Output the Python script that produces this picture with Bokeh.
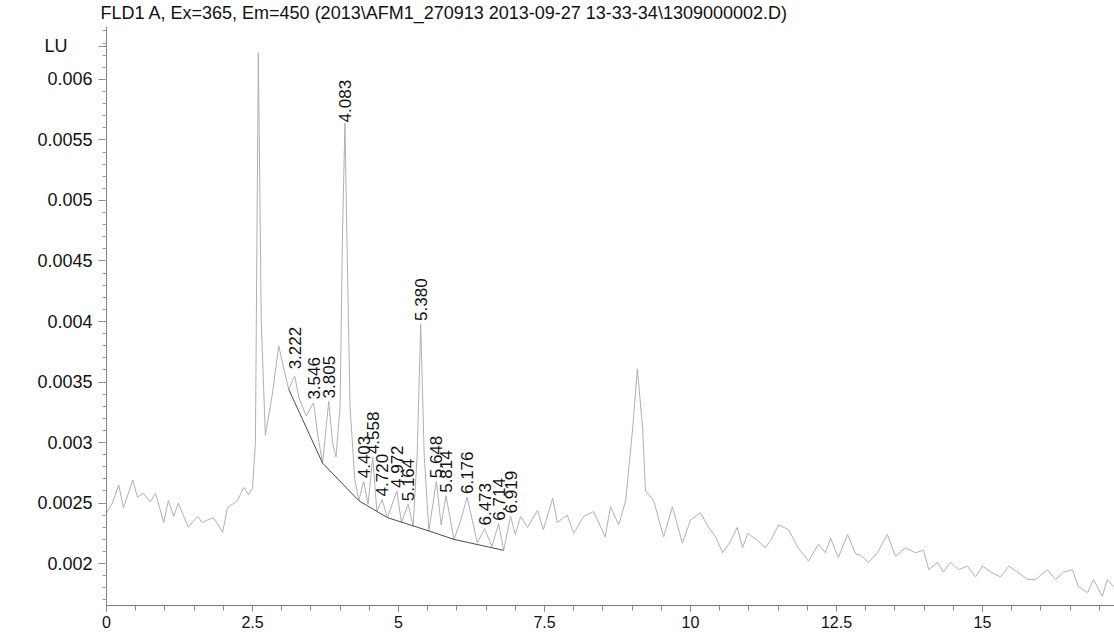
from bokeh.plotting import figure
from bokeh.models import FixedTicker, CustomJSTickFormatter, Title, Range1d, ColumnDataSource
from bokeh.core.properties import value
from bokeh.embed import file_html
from bokeh.resources import INLINE
import math

TITLE = "FLD1 A, Ex=365, Em=450 (2013\\AFM1_270913 2013-09-27 13-33-34\\1309000002.D)"
Y_UNIT = "LU"

# chromatogram trace (retention time in min, signal in LU)
time_min = [
    0.00, 0.10, 0.21, 0.29, 0.45, 0.53, 0.63, 0.75, 0.84, 0.98, 1.06, 1.15, 1.23, 1.40,
    1.56, 1.64, 1.73, 1.83, 1.99, 2.07, 2.24, 2.35, 2.43, 2.50,
    2.55, 2.60, 2.65, 2.72, 2.84, 2.95, 3.03, 3.12, 3.222, 3.30, 3.42, 3.546, 3.62, 3.70,
    3.805, 3.87, 3.93, 4.00, 4.04, 4.083, 4.12, 4.17, 4.25, 4.32, 4.403, 4.48, 4.558, 4.63,
    4.720, 4.81, 4.972, 5.05, 5.164, 5.25, 5.32, 5.380, 5.44, 5.52, 5.648, 5.73, 5.814,
    5.95, 6.06, 6.176, 6.35, 6.473, 6.60, 6.714, 6.80, 6.919, 7.00,
    7.09, 7.21, 7.38, 7.48, 7.64, 7.72, 7.89, 8.00, 8.17, 8.34, 8.54, 8.63, 8.77, 8.89,
    9.01, 9.09, 9.18, 9.23, 9.37, 9.54, 9.69, 9.86, 10.00, 10.17, 10.31, 10.43, 10.55,
    10.68, 10.80, 10.89, 10.98, 11.15, 11.28, 11.37, 11.51, 11.68, 11.83, 12.02, 12.19,
    12.31, 12.40, 12.53, 12.69, 12.83, 12.91, 13.05, 13.20, 13.37, 13.51, 13.68, 13.85,
    13.99, 14.08, 14.23, 14.33, 14.45, 14.59, 14.74, 14.88, 15.00, 15.14, 15.31, 15.45,
    15.60, 15.77, 15.91, 16.11, 16.25, 16.39, 16.54, 16.64, 16.80, 16.90, 17.05, 17.14, 17.24,
]
signal_lu = [
    0.00242, 0.00250, 0.00265, 0.00246, 0.00269, 0.00255, 0.00258, 0.00251, 0.00258, 0.00234,
    0.00252, 0.00239, 0.00250, 0.00230, 0.00239, 0.00234, 0.00236, 0.00238, 0.00226, 0.00246,
    0.00252, 0.00263, 0.00257, 0.00262,
    0.00300, 0.00622, 0.00400, 0.00306, 0.00340, 0.00380, 0.00362, 0.00344, 0.00355, 0.00336,
    0.00322, 0.00333, 0.00305, 0.00283, 0.00334, 0.00300, 0.00288, 0.00330, 0.00470, 0.00564,
    0.00460, 0.00330, 0.00270, 0.00252, 0.00268, 0.00249, 0.00288, 0.00243, 0.00253, 0.00238,
    0.00260, 0.00234, 0.00249, 0.00231, 0.00290, 0.00398, 0.00290, 0.00227, 0.00268, 0.00232,
    0.00256, 0.00220, 0.00235, 0.00255, 0.00217, 0.00229, 0.00214, 0.00233, 0.00211, 0.00239,
    0.00224,
    0.00239, 0.00230, 0.00244, 0.00228, 0.00254, 0.00234, 0.00240, 0.00225, 0.00239, 0.00243,
    0.00222, 0.00247, 0.00232, 0.00252, 0.00312, 0.00361, 0.00312, 0.00260, 0.00252, 0.00222,
    0.00247, 0.00217, 0.00236, 0.00242, 0.00230, 0.00222, 0.00209, 0.00218, 0.00230, 0.00213,
    0.00225, 0.00219, 0.00213, 0.00219, 0.00232, 0.00228, 0.00214, 0.00202, 0.00216, 0.00209,
    0.00221, 0.00205, 0.00224, 0.00208, 0.00207, 0.00201, 0.00209, 0.00224, 0.00206, 0.00213,
    0.00209, 0.00211, 0.00195, 0.00201, 0.00193, 0.00201, 0.00195, 0.00198, 0.00189, 0.00198,
    0.00193, 0.00189, 0.00198, 0.00193, 0.00187, 0.00187, 0.00195, 0.00187, 0.00193, 0.00195,
    0.00181, 0.00176, 0.00187, 0.00173, 0.00187, 0.00181,
]

# integration baseline vertices
base_time = [3.12, 3.70, 4.32, 4.81, 5.52, 5.95, 6.80]
base_lu = [0.00344, 0.00283, 0.00252, 0.00238, 0.00227, 0.00220, 0.00211]

# annotated peaks: retention time label and apex height
peak_rt = [3.222, 3.546, 3.805, 4.083, 4.403, 4.558, 4.720, 4.972, 5.164, 5.380,
           5.648, 5.814, 6.176, 6.473, 6.714, 6.919]
peak_top = [0.00358, 0.00333, 0.00334, 0.00562, 0.00268, 0.00288, 0.00253, 0.00260, 0.00249,
            0.00398, 0.00268, 0.00256, 0.00255, 0.00229, 0.00233, 0.00239]
peak_text = ["3.222", "3.546", "3.805", "4.083", "4.403", "4.558", "4.720", "4.972", "5.164",
             "5.380", "5.648", "5.814", "6.176", "6.473", "6.714", "6.919"]

x_ticks = [0, 2.5, 5, 7.5, 10, 12.5, 15, 17.5]
y_ticks = [0.002, 0.0025, 0.003, 0.0035, 0.004, 0.0045, 0.005, 0.0055, 0.006]

FONT = "Liberation Sans"
UNIT_TICK = 0.006272   # height at which the unit name sits beside the axis

p = figure(width=1114, height=635, title=None,
           x_range=Range1d(0, 17.26), y_range=Range1d(0.001654, 0.006437),
           output_backend="svg", toolbar_location=None,
           min_border_left=106, min_border_right=0, min_border_top=24, min_border_bottom=30)
p.outline_line_color = None
p.xgrid.visible = False
p.ygrid.visible = False
p.background_fill_color = "white"
p.border_fill_color = "white"

p.line(time_min, signal_lu, line_color="#b0b0b0", line_width=1)
p.line(base_time, base_lu, line_color="#4a4a4a", line_width=1)

src = ColumnDataSource(dict(x=peak_rt, y=peak_top, t=peak_text))
p.text(x="x", y="y", text="t", source=src, angle=math.pi / 2,
       text_align="left", text_baseline="middle", y_offset=-3,
       text_font=value(FONT), text_font_size="17px", text_color="#111111")

xa = p.xaxis[0]
xa.ticker = FixedTicker(ticks=x_ticks, minor_ticks=[i * 0.5 for i in range(36)])
xa.formatter = CustomJSTickFormatter(code="return String(tick);")
xa.axis_line_color = "#777777"
xa.major_tick_line_color = "#777777"
xa.minor_tick_line_color = "#888888"
xa.major_tick_out = 6
xa.major_tick_in = 0
xa.minor_tick_out = 5
xa.minor_tick_in = 0
xa.major_label_text_font = FONT
xa.major_label_text_font_size = "16px"
xa.major_label_text_color = "#111111"
xa.major_label_standoff = 4

ya = p.yaxis[0]
ya.ticker = FixedTicker(ticks=y_ticks + [UNIT_TICK],
                        minor_ticks=[0.0017 + i * 0.0001 for i in range(48)])
ya.formatter = CustomJSTickFormatter(
    args=dict(unit=Y_UNIT),
    code="if (tick > 0.0062) { return unit + '\\u00a0'.repeat(5); }"
         " return tick.toFixed(4).replace(/0+$/, '');")
ya.axis_line_color = "#888888"
ya.major_tick_line_color = "#888888"
ya.minor_tick_line_color = "#999999"
ya.major_tick_out = 8
ya.major_tick_in = 0
ya.minor_tick_out = 4
ya.minor_tick_in = 0
ya.major_label_text_font = FONT
ya.major_label_text_font_size = "18px"
ya.major_label_text_color = "#111111"
ya.major_label_standoff = 6

p.add_layout(Title(text=TITLE, align="left", offset=-6, standoff=4, vertical_align="top",
                   text_font=FONT, text_font_size="18px", text_font_style="normal",
                   text_color="#111111"), "above")

open("out.html", "w").write(file_html(p, INLINE))
